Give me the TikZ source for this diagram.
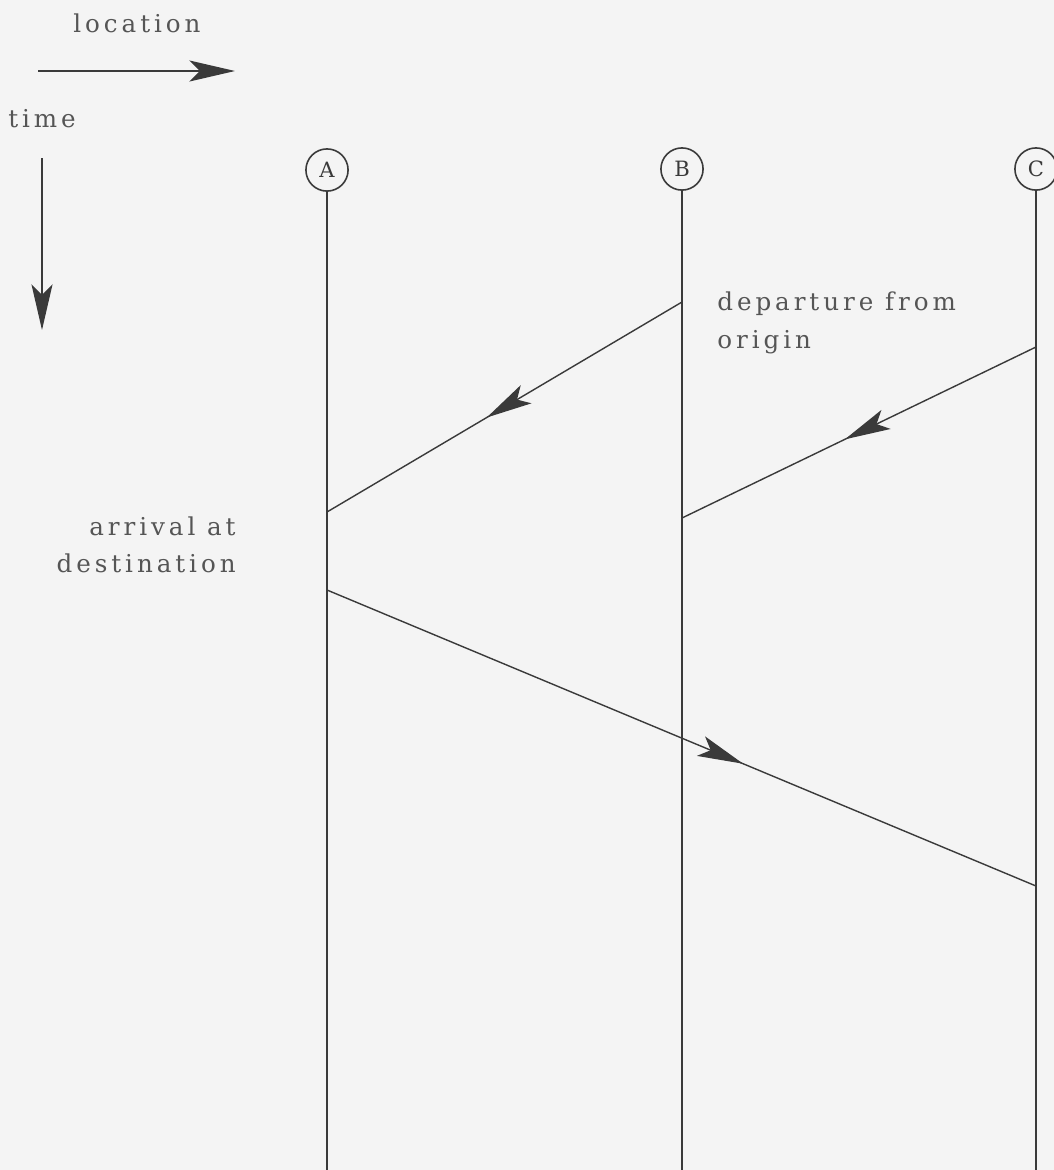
\documentclass[tikz,border=0pt]{standalone}
\usepackage{fontspec}
\newfontfamily\spacedfont{DejaVu Serif}[LetterSpace=16]
\newfontfamily\stationfont{DejaVu Serif}
\usetikzlibrary{arrows.meta,decorations.markings}
\definecolor{ink}{HTML}{3A3A3A}
\definecolor{txt}{HTML}{555555}
\definecolor{paper}{HTML}{F4F4F4}
\tikzset{
  lbl/.style={text=txt,font=\spacedfont\fontsize{14}{18}\selectfont,inner sep=0pt},
  station/.style={circle,draw=ink,line width=0.9pt,minimum size=24pt,inner sep=0pt,text=ink,font=\stationfont\fontsize{12}{14}\selectfont},
  track/.style={draw=ink,line width=0.8pt},
  bigtip/.style={-{Stealth[length=26pt,width=12pt,inset=6pt]}},
  path/.style={draw=ink,line width=0.8pt,postaction={decorate},
    decoration={markings,mark=at position #1 with {\arrow{Stealth[length=26pt,width=12pt,inset=6pt]}}}}
}
\begin{document}
\begin{tikzpicture}[x=0.02cm,y=-0.02cm]
\fill[paper] (0,0) rectangle (1054,1170);
\useasboundingbox (0,0) rectangle (1054,1170);
% legend
\node[lbl,anchor=base] (loc) at (137,32) {location};
\coordinate (locs) at (38,71);
\coordinate (loce) at (235,71);
\draw[track,bigtip] (locs) -- (loce);
\node[lbl,anchor=base west] (time) at (8,127) {time};
\coordinate (ts) at (42,158);
\coordinate (te) at (42,330);
\draw[track,bigtip] (ts) -- (te);
% stations
\node[station] (A) at (327,170) {A};
\node[station] (B) at (682,169) {B};
\node[station] (C) at (1036,169) {C};
\coordinate (Ab) at (327,1170);
\coordinate (Bb) at (682,1170);
\coordinate (Cb) at (1036,1170);
\draw[track] (A) -- (Ab);
\draw[track] (B) -- (Bb);
\draw[track] (C) -- (Cb);
% events
\coordinate (B1) at (682,302);
\coordinate (A1) at (327,512);
\coordinate (C1) at (1036,347);
\coordinate (B2) at (682,518);
\coordinate (A2) at (327,590);
\coordinate (C2) at (1036,886);
\draw[path=0.55] (B1) -- (A1);
\draw[path=0.54] (C1) -- (B2);
\draw[path=0.587] (A2) -- (C2);
% labels
\node[lbl,anchor=base west] (dep) at (717,310) {departure from};
\node[lbl,anchor=base west] (ori) at (717,348) {origin};
\node[lbl,anchor=base east] (arr) at (236,535) {arrival at};
\node[lbl,anchor=base east] (dst) at (236,572) {destination};
\end{tikzpicture}
\end{document}
